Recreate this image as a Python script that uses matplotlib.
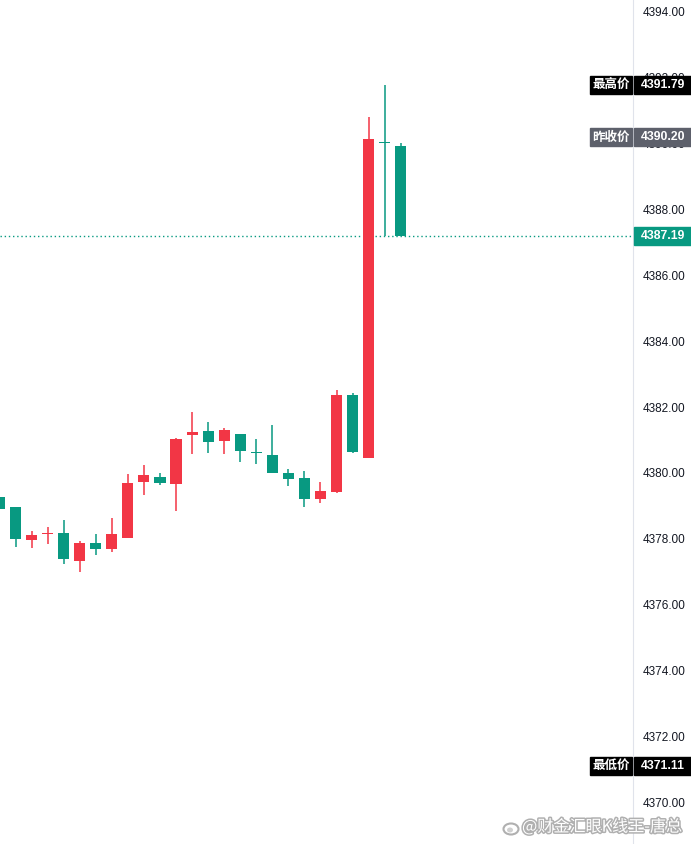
import numpy as np
import matplotlib
matplotlib.use("Agg")
import matplotlib.pyplot as plt
import matplotlib.transforms as mtransforms
import matplotlib.patheffects as pe
from matplotlib.patches import Rectangle, Ellipse

# OHLC (price units)
opens = [4379.28, 4378.97, 4377.96, 4378.13, 4378.17, 4377.33, 4377.87, 4377.69, 4378.03, 4379.72,
         4379.87, 4379.66, 4381.15, 4381.27, 4380.97, 4381.18, 4380.62, 4380.54, 4380.00, 4379.84,
         4379.21, 4379.42, 4382.37, 4380.45, 4390.03, 4389.93]
highs = [4379.30, 4378.97, 4378.23, 4378.36, 4378.57, 4377.93, 4378.14, 4378.63, 4379.97, 4380.24,
         4380.00, 4381.06, 4381.85, 4381.55, 4381.36, 4381.18, 4381.03, 4381.45, 4380.12, 4380.06,
         4379.72, 4382.52, 4382.43, 4390.81, 4391.78, 4390.02]
lows = [4378.88, 4377.76, 4377.73, 4377.85, 4377.24, 4377.00, 4377.51, 4377.60, 4378.03, 4379.33,
        4379.63, 4378.83, 4380.57, 4380.60, 4380.57, 4380.33, 4380.27, 4380.00, 4379.60, 4378.96,
        4379.08, 4379.39, 4380.60, 4380.45, 4387.20, 4387.19]
closes = [4378.90, 4377.99, 4378.11, 4378.15, 4377.38, 4377.87, 4377.69, 4378.15, 4379.69, 4379.94,
          4379.69, 4381.03, 4381.24, 4380.94, 4381.30, 4380.66, 4380.60, 4380.00, 4379.81, 4379.21,
          4379.45, 4382.37, 4380.63, 4390.14, 4390.02, 4387.19]

last_price = 4387.19
high_price = 4391.79
low_price = 4371.11
prev_close = 4390.20
tick_values = np.arange(4370, 4395, 2)

up_col = "#f23645"
down_col = "#089981"

W, H = 691, 844
fig = plt.figure(figsize=(W / 100, H / 100), dpi=100)
ax = fig.add_axes([0, 0, 633 / W, 1])

x = np.arange(len(opens))
o = np.array(opens)
c = np.array(closes)
cols = [up_col if cc >= oo else down_col for oo, cc in zip(o, c)]
# dojis: colour as seen on the chart
cols[3] = up_col
cols[16] = down_col
cols[24] = down_col

ax.vlines(x, lows, highs, colors=cols, linewidth=1.1, zorder=2)
bottom = np.minimum(o, c)
height = np.maximum(np.abs(c - o), 0.035)
ax.bar(x, height, bottom=bottom, width=0.69, color=cols, linewidth=0, zorder=3)

# last price dotted line
ax.axhline(last_price, color=down_col, linestyle=(0, (1, 2)), linewidth=1, zorder=1)

ax.set_xlim(0.034, 39.47)
ax.set_ylim(4368.73, 4394.36)

ax.yaxis.tick_right()
ax.set_yticks(tick_values)
ax.set_yticklabels(["%.2f" % v for v in tick_values], fontsize=8.5,
                   family="Liberation Sans", color="#131722")
ax.tick_params(axis="y", length=0, pad=7)
ax.set_xticks([])
for s in ["top", "left", "bottom"]:
    ax.spines[s].set_visible(False)
ax.spines["right"].set_color("#e0e3eb")

trans = mtransforms.blended_transform_factory(ax.transAxes, ax.transData)
box_h = 18 / 32.92


def price_tag(price, value_txt, color, name=None):
    ax.add_patch(Rectangle((1.0015, price - box_h / 2), 58 / 633, box_h, transform=trans,
                           color=color, clip_on=False, zorder=6))
    ax.text(1.0015 + 29 / 633, price, value_txt, transform=trans, ha="center", va="center",
            color="white", fontsize=8.8, family="Liberation Sans", fontweight="bold",
            zorder=7, clip_on=False)
    if name is not None:
        ax.add_patch(Rectangle((590 / 633, price - box_h / 2), 42 / 633, box_h, transform=trans,
                               color=color, clip_on=False, zorder=6))
        ax.text(611 / 633, price, name, transform=trans, ha="center", va="center",
                color="white", fontsize=9, family=["Noto Sans CJK SC", "DejaVu Sans"],
                fontweight="bold", zorder=7, clip_on=False)


price_tag(high_price, "%.2f" % high_price, "#000000", "最高价")
price_tag(prev_close, "%.2f" % prev_close, "#5d606b", "昨收价")
price_tag(last_price, "%.2f" % last_price, down_col)
price_tag(low_price, "%.2f" % low_price, "#000000", "最低价")

# watermark
fig.text(522 / W, 1 - 827 / H, "@财金汇眼K线王-唐总", ha="left", va="center", fontsize=11.6,
         color="white", family=["Noto Sans CJK SC", "DejaVu Sans"],
         path_effects=[pe.withStroke(linewidth=2.2, foreground="#b0b0b0")])
logo = Ellipse((511 / W, 1 - 829 / H), 15 / W, 11 / H, transform=fig.transFigure,
               facecolor="white", edgecolor="#b0b0b0", linewidth=1.5)
fig.patches.append(logo)
eye = Ellipse((510 / W, 1 - 830 / H), 6 / W, 5 / H, transform=fig.transFigure,
              facecolor="#d0d0d0", edgecolor="none")
fig.patches.append(eye)

fig.savefig("out.png", dpi=100)
